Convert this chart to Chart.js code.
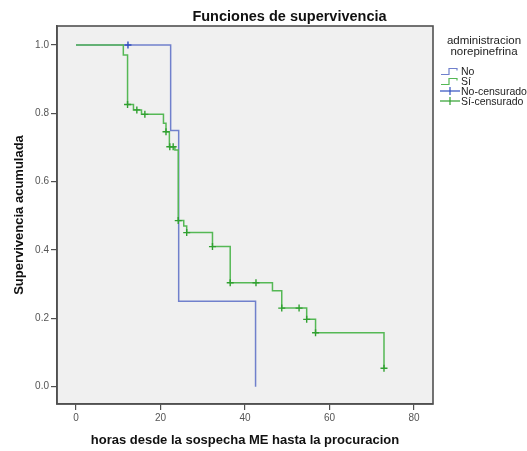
<!DOCTYPE html>
<html>
<head>
<meta charset="utf-8">
<script src="https://cdn.jsdelivr.net/npm/chart.js@4.4.1/dist/chart.umd.min.js"></script>
<style>
  html, body { margin: 0; padding: 0; background: #ffffff; }
  #wrap { position: relative; width: 527px; height: 451px; overflow: hidden; font-family: "Liberation Sans", Arial, sans-serif; }
  #c { position: absolute; left: 0; top: 0; }
  .title { position: absolute; left: 180px; width: 219px; top: 7px; text-align: center; font-weight: bold; font-size: 14.5px; line-height: 18px; color: #111; white-space: nowrap; }
  .ltitle { position: absolute; left: 440px; width: 88px; top: 35px; text-align: center; font-size: 11.5px; line-height: 11px; color: #222; white-space: nowrap; }
  .litem { position: absolute; left: 440px; height: 10px; font-size: 10.5px; line-height: 10px; color: #222; white-space: nowrap; }
  .litem svg { position: absolute; left: 0; top: 0; }
  .litem span { position: absolute; left: 21px; top: 0; }
</style>
</head>
<body>
<div id="wrap">
  <canvas id="c" width="527" height="451"></canvas>
  <div class="title">Funciones de supervivencia</div>
  <div class="ltitle">administracion<br>norepinefrina</div>
  <div class="litem" style="top:65.5px"><svg width="20" height="10"><polyline points="1,8.5 9,8.5 9,2.5 17,2.5 17,4.5" fill="none" stroke="#7080CC" stroke-width="1.2"/></svg><span>No</span></div>
  <div class="litem" style="top:75.5px"><svg width="20" height="10"><polyline points="1,8.5 9,8.5 9,2.5 17,2.5 17,4.5" fill="none" stroke="#55B855" stroke-width="1.2"/></svg><span>Sí</span></div>
  <div class="litem" style="top:85.5px"><svg width="20" height="10"><line x1="0" y1="5" x2="20" y2="5" stroke="#3050C0" stroke-width="1.2"/><line x1="10" y1="1" x2="10" y2="9" stroke="#3050C0" stroke-width="1.2"/></svg><span>No-censurado</span></div>
  <div class="litem" style="top:95.5px"><svg width="20" height="10"><line x1="0" y1="5" x2="20" y2="5" stroke="#30A030" stroke-width="1.2"/><line x1="10" y1="1" x2="10" y2="9" stroke="#30A030" stroke-width="1.2"/></svg><span>Sí-censurado</span></div>
</div>
<script>
// ---- data ----
const xTicks = [0, 20, 40, 60, 80];
const yTicks = [0, 0.2, 0.4, 0.6, 0.8, 1.0];

const noTimes = [0, 22.4, 24.3, 42.5];
const noSurv  = [1.0, 0.75, 0.25, 0.0];
const noCensTimes = [12.3];
const noCensSurv  = [1.0];

const siTimes = [0, 11.2, 12.2, 13.6, 15.5, 20.7, 21.3, 22.1, 23.4, 24.2, 25.5, 26.2, 32.3, 36.5, 46.5, 48.7, 54.6, 56.7, 72.9];
const siSurv  = [1.0, 0.971, 0.826, 0.81, 0.797, 0.771, 0.746, 0.702, 0.693, 0.486, 0.47, 0.451, 0.41, 0.304, 0.281, 0.23, 0.197, 0.158, 0.054];
const siCensTimes = [12.2, 14.4, 16.3, 21.3, 22.2, 23.0, 24.2, 26.2, 32.3, 36.5, 42.6, 48.7, 52.8, 54.6, 56.7, 72.9];
const siCensSurv  = [0.826, 0.81, 0.797, 0.746, 0.702, 0.702, 0.486, 0.451, 0.41, 0.304, 0.304, 0.23, 0.23, 0.197, 0.158, 0.054];

const xLabel = 'horas desde la sospecha ME hasta la procuracion';
const yLabel = 'Supervivencia acumulada';

const pts = (xs, ys) => xs.map((x, i) => ({ x: x, y: ys[i] }));

const frame = {
  id: 'frame',
  beforeDraw(chart) {
    const a = chart.chartArea, ctx = chart.ctx;
    ctx.save();
    ctx.fillStyle = '#F0F0F0';
    ctx.fillRect(a.left, a.top, a.right - a.left, a.bottom - a.top);
    ctx.restore();
  },
  afterDraw(chart) {
    const a = chart.chartArea, ctx = chart.ctx;
    ctx.save();
    ctx.strokeStyle = '#505050';
    ctx.lineWidth = 1.6;
    ctx.strokeRect(a.left, a.top, a.right - a.left, a.bottom - a.top);
    ctx.restore();
  }
};

const tickFont = { family: '"Liberation Sans", Arial, sans-serif', size: 10 };
const titleFont = { family: '"Liberation Sans", Arial, sans-serif', size: 13, weight: 'bold' };

new Chart(document.getElementById('c'), {
  type: 'line',
  data: {
    datasets: [
      { label: 'Sí-censurado', type: 'scatter', data: pts(siCensTimes, siCensSurv), showLine: false,
        pointStyle: 'cross', pointRadius: 3.5, borderColor: '#30A030', borderWidth: 1.4, order: 0 },
      { label: 'No-censurado', type: 'scatter', data: pts(noCensTimes, noCensSurv), showLine: false,
        pointStyle: 'cross', pointRadius: 3.5, borderColor: '#3050C0', borderWidth: 1.4, order: 0 },
      { label: 'Sí', data: pts(siTimes, siSurv), stepped: 'before', borderColor: '#55B855', borderWidth: 1.5,
        pointRadius: 0, fill: false, order: 1 },
      { label: 'No', data: pts(noTimes, noSurv), stepped: 'before', borderColor: '#7080CC', borderWidth: 1.5,
        pointRadius: 0, fill: false, order: 2 }
    ]
  },
  options: {
    responsive: false,
    animation: false,
    layout: { padding: { left: 0, top: 26, right: 94, bottom: 0 } },
    plugins: { legend: { display: false }, title: { display: false }, tooltip: { enabled: false } },
    scales: {
      x: {
        type: 'linear', min: -4.5, max: 84.5,
        afterBuildTicks: s => { s.ticks = xTicks.map(v => ({ value: v })); },
        afterFit: s => { s.height = 47; },
        ticks: { font: tickFont, color: '#555', padding: 2, maxRotation: 0, autoSkip: false, callback: v => String(v) },
        grid: { drawOnChartArea: false, drawTicks: true, tickLength: 6, color: '#505050', lineWidth: 1.2 },
        border: { display: true, color: '#505050', width: 1.6 },
        title: { display: true, text: xLabel, font: titleFont, color: '#111', padding: { top: 0, bottom: 3 } }
      },
      y: {
        type: 'linear', min: -0.0507, max: 1.0556,
        afterBuildTicks: s => { s.ticks = yTicks.map(v => ({ value: v })); },
        afterFit: s => { s.width = 57; },
        ticks: { font: tickFont, color: '#555', padding: 2, autoSkip: false, callback: v => Number(v).toFixed(1) },
        grid: { drawOnChartArea: false, drawTicks: true, tickLength: 6, color: '#505050', lineWidth: 1.2 },
        border: { display: true, color: '#505050', width: 1.6 },
        title: { display: true, text: yLabel, font: titleFont, color: '#111', padding: { top: 12, bottom: 0 } }
      }
    }
  },
  plugins: [frame]
});
</script>
</body>
</html>
